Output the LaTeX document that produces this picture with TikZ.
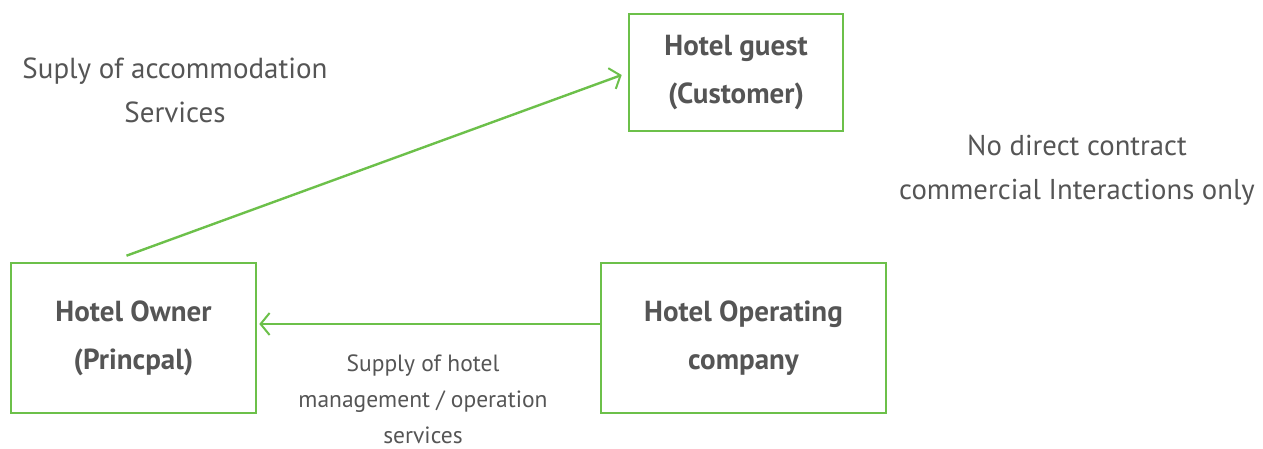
\documentclass[tikz,border=0pt]{standalone}
\usepackage{fontspec}
\setmainfont{PT Sans}
\usetikzlibrary{arrows.meta,calc}
\definecolor{grn}{HTML}{6CC04A}
\definecolor{txt}{HTML}{555555}
\tikzset{
  box/.style={draw=grn, line width=2.6pt, align=center, text=txt, font=\fontsize{29}{48}\selectfont\bfseries, inner sep=0pt},
  lbl/.style={align=center, text=txt, inner sep=0pt},
  conn/.style={draw=grn, line width=2.4pt, -{Straight Barb[length=9pt,width=22pt,line width=2pt]}},
}
\begin{document}
\begin{tikzpicture}[x=1pt,y=-1pt]
\useasboundingbox (0,0) rectangle (1263,449);
\node[box, minimum width=214pt, minimum height=117pt] (guest) at (736,72.5) {Hotel guest\\(Customer)};
\node[box, minimum width=245pt, minimum height=150pt] (owner) at (133.5,338) {Hotel Owner\\(Princpal)};
\node[box, minimum width=285pt, minimum height=150pt] (oper) at (743.5,338) {Hotel Operating\\company};
\draw[conn] ($(owner.north)+(-7,-6)$) -- ($(guest.west)+(-6,2.5)$);
\draw[conn] ($(oper.west)+(0,-14)$) -- ($(owner.east)+(2,-14)$);
\node[lbl, font=\fontsize{29}{44}\selectfont] (l1) at (175,90) {Suply of accommodation\\Services};
\node[lbl, font=\fontsize{28.7}{44}\selectfont] (l2) at (1077,170) {No direct contract\\commercial Interactions only};
\node[lbl, font=\fontsize{23.5}{36}\selectfont] (l3) at (423,399) {Supply of hotel\\management / operation\\services};
\end{tikzpicture}
\end{document}
